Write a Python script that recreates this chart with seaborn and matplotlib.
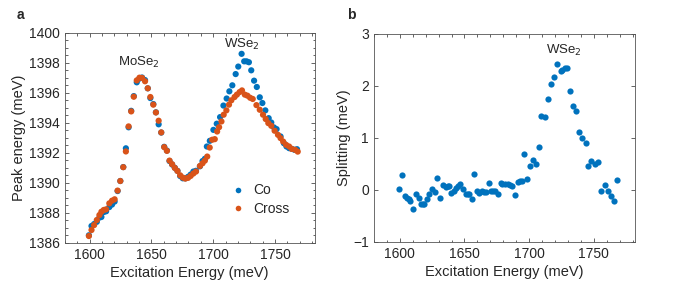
import matplotlib
matplotlib.use('Agg')
import matplotlib.pyplot as plt
from matplotlib.ticker import MultipleLocator
import seaborn as sns
import pandas as pd

# panel a: peak energy vs excitation energy (meV)
cross_E = [1599.5, 1601.6, 1603.7, 1605.9, 1608.0, 1609.6, 1611.5, 1613.4, 1616.0, 1618.2,
           1620.3, 1622.7, 1624.9, 1627.3, 1629.4, 1631.6, 1633.7, 1635.8, 1638.2, 1640.4,
           1642.5, 1644.9, 1647.1, 1649.2, 1651.6, 1653.7, 1655.9, 1658.0, 1660.4, 1662.6,
           1664.7, 1666.8, 1669.0, 1671.1, 1673.3, 1675.4, 1677.5, 1679.7, 1681.8, 1684.0,
           1686.1, 1689.3, 1691.4, 1693.3, 1695.2, 1697.2, 1699.2, 1701.3, 1703.2, 1704.8,
           1706.7, 1708.5, 1710.7, 1712.8, 1714.7, 1717.3, 1719.2, 1721.4, 1723.3, 1725.6,
           1727.7, 1729.9, 1732.0, 1735.0, 1737.7, 1740.3, 1742.5, 1744.6, 1747.0, 1749.7,
           1752.4, 1754.5, 1756.6, 1759.0, 1761.4, 1763.6, 1766.3, 1768.4]
cross_val = [1386.45, 1386.85, 1387.18, 1387.52, 1387.85, 1388.07, 1388.19, 1388.23, 1388.63, 1388.81,
             1388.90, 1389.48, 1390.12, 1391.04, 1392.09, 1393.76, 1394.76, 1395.74, 1396.83, 1397.01,
             1396.99, 1396.77, 1396.30, 1395.72, 1395.21, 1394.69, 1394.14, 1393.36, 1392.38, 1392.13,
             1391.48, 1391.24, 1390.99, 1390.79, 1390.50, 1390.35, 1390.28, 1390.33, 1390.46, 1390.62,
             1390.75, 1391.12, 1391.30, 1391.48, 1391.75, 1392.35, 1392.87, 1392.91, 1393.42, 1393.71,
             1394.09, 1394.54, 1394.83, 1395.21, 1395.50, 1395.72, 1395.88, 1396.05, 1396.16, 1395.88,
             1395.81, 1395.67, 1395.59, 1395.18, 1394.87, 1394.54, 1394.25, 1393.98, 1393.80, 1393.47,
             1393.20, 1392.98, 1392.75, 1392.53, 1392.42, 1392.26, 1392.20, 1392.08]

co_E = [1599.5, 1601.6, 1603.7, 1605.9, 1608.0, 1609.6, 1611.5, 1613.4, 1616.0, 1618.2,
        1620.3, 1622.7, 1624.9, 1627.3, 1629.4, 1631.6, 1633.7, 1635.8, 1638.2, 1640.4,
        1642.5, 1644.9, 1647.1, 1649.2, 1651.6, 1653.7, 1655.9, 1658.0, 1660.4, 1662.6,
        1664.7, 1666.8, 1669.0, 1671.1, 1673.3, 1675.4, 1677.5, 1679.7, 1681.8, 1684.0,
        1686.1, 1689.3, 1691.4, 1693.3, 1694.9, 1697.3, 1700.2, 1702.9, 1705.6, 1708.3,
        1710.9, 1713.1, 1715.5, 1718.2, 1720.3, 1723.0, 1725.1, 1727.0, 1728.9, 1730.8,
        1733.1, 1735.3, 1737.7, 1739.8, 1742.2, 1744.9, 1747.0, 1749.2, 1751.3, 1754.5,
        1757.2, 1759.3, 1761.4, 1763.6, 1765.7, 1767.8]
co_val = [1386.50, 1387.12, 1387.25, 1387.40, 1387.68, 1387.72, 1388.05, 1388.10, 1388.38, 1388.55,
          1388.75, 1389.45, 1390.12, 1391.05, 1392.30, 1393.70, 1394.80, 1395.78, 1396.70, 1396.95,
          1397.02, 1396.85, 1396.30, 1395.65, 1395.25, 1394.70, 1393.90, 1393.35, 1392.40, 1392.15,
          1391.45, 1391.22, 1391.00, 1390.80, 1390.45, 1390.30, 1390.30, 1390.40, 1390.55, 1390.75,
          1390.80, 1391.10, 1391.45, 1391.60, 1392.42, 1392.80, 1393.53, 1393.94, 1394.38, 1395.15,
          1395.62, 1396.10, 1396.50, 1397.25, 1397.75, 1398.60, 1398.10, 1398.10, 1398.04, 1397.50,
          1396.81, 1396.39, 1395.70, 1395.32, 1394.83, 1394.31, 1394.02, 1393.69, 1393.58, 1393.09,
          1392.64, 1392.42, 1392.31, 1392.26, 1392.20, 1392.24]

# panel b: splitting (meV)
split_E = [1599.7, 1602.0, 1603.8, 1605.3, 1606.9, 1608.1, 1609.9, 1612.2, 1614.5, 1616.3,
           1617.8, 1618.8, 1620.9, 1622.9, 1625.0, 1627.0, 1629.0, 1631.3, 1633.4, 1635.4,
           1637.4, 1638.2, 1639.7, 1641.8, 1643.3, 1644.8, 1646.3, 1648.9, 1650.9, 1652.5,
           1653.5, 1655.5, 1657.6, 1659.6, 1661.6, 1663.7, 1665.2, 1666.7, 1668.8, 1670.8,
           1672.3, 1673.8, 1675.9, 1677.9, 1679.4, 1681.5, 1683.5, 1685.1, 1687.1, 1689.1,
           1691.2, 1692.7, 1694.2, 1695.7, 1698.3, 1700.3, 1702.9, 1705.4, 1707.5, 1709.5,
           1712.0, 1714.6, 1716.6, 1719.2, 1721.7, 1724.3, 1725.8, 1727.8, 1729.4, 1731.4,
           1734.0, 1736.5, 1738.5, 1741.1, 1743.6, 1745.7, 1748.2, 1750.8, 1753.3, 1755.8,
           1758.4, 1760.9, 1763.5, 1766.0, 1768.3]
split_val = [0.02, 0.28, -0.12, -0.16, -0.18, -0.21, -0.37, -0.07, -0.16, -0.28,
             -0.28, -0.27, -0.17, -0.07, 0.01, -0.04, 0.23, -0.16, 0.09, 0.06,
             0.07, 0.07, -0.06, -0.03, 0.03, 0.07, 0.12, 0.01, -0.08, -0.08,
             -0.08, -0.18, 0.31, -0.02, -0.06, -0.03, -0.04, -0.04, 0.13, -0.02,
             -0.02, -0.03, -0.07, 0.13, 0.12, 0.11, 0.11, 0.09, 0.07, -0.09,
             0.16, 0.17, 0.17, 0.69, 0.21, 0.46, 0.58, 0.49, 0.83, 1.42,
             1.40, 1.75, 2.03, 2.17, 2.42, 2.28, 2.31, 2.34, 2.35, 1.91,
             1.61, 1.52, 1.11, 1.00, 0.90, 0.47, 0.56, 0.50, 0.54, -0.02,
             0.09, -0.03, -0.11, -0.22, 0.20]

blue = '#0072BD'
orange = '#D95319'

sns.set_style('ticks')
plt.rcParams['font.family'] = ['Liberation Sans', 'DejaVu Sans']
plt.rcParams['xtick.direction'] = 'in'
plt.rcParams['ytick.direction'] = 'in'

df_a = pd.concat([
    pd.DataFrame({'E': co_E, 'peak': co_val, 'pol': 'Co'}),
    pd.DataFrame({'E': cross_E, 'peak': cross_val, 'pol': 'Cross'}),
], ignore_index=True)
df_b = pd.DataFrame({'E': split_E, 'split': split_val})

fig = plt.figure(figsize=(6.75, 2.88), dpi=100)
ax1 = fig.add_axes([0.096, 0.157, 0.370, 0.729])
ax2 = fig.add_axes([0.554, 0.160, 0.387, 0.722])


def style_axes(ax):
    for sp in ax.spines.values():
        sp.set_color('#555555')
        sp.set_linewidth(0.6)
    ax.tick_params(which='both', top=True, right=True, colors='#262626',
                   labelsize=10, width=0.5)
    ax.tick_params(which='major', length=3)
    ax.tick_params(which='minor', length=1.8)
    ax.set_xlim(1580, 1782)
    ax.xaxis.set_major_locator(MultipleLocator(50))
    ax.xaxis.set_minor_locator(MultipleLocator(10))
    ax.set_xlabel('Excitation Energy (meV)', fontsize=10.5, color='#262626', labelpad=3)


sns.scatterplot(data=df_a, x='E', y='peak', hue='pol', palette={'Co': blue, 'Cross': orange},
                s=20, linewidth=0, ax=ax1)
style_axes(ax1)
ax1.set_ylim(1386, 1400)
ax1.yaxis.set_major_locator(MultipleLocator(2))
ax1.yaxis.set_minor_locator(MultipleLocator(0.5))
ax1.set_ylabel('Peak energy (meV)', fontsize=10.5, color='#262626', labelpad=2)
ax1.text(1640, 1397.5, 'MoSe$_2$', ha='center', va='bottom', fontsize=9.5)
ax1.text(1723, 1398.75, 'WSe$_2$', ha='center', va='bottom', fontsize=9.5)
leg = ax1.legend(loc='lower right', bbox_to_anchor=(0.95, 0.07), frameon=False,
                 fontsize=10, handletextpad=0.1, markerscale=0.9, labelspacing=0.3)

sns.scatterplot(data=df_b, x='E', y='split', color=blue, s=20, linewidth=0, ax=ax2)
style_axes(ax2)
ax2.set_ylim(-1, 3)
ax2.yaxis.set_major_locator(MultipleLocator(1))
ax2.set_ylabel('Splitting (meV)', fontsize=10.5, color='#262626', labelpad=2)
ax2.text(1727, 2.54, 'WSe$_2$', ha='center', va='bottom', fontsize=9.5)

fig.text(0.024, 0.935, 'a', fontsize=10, fontweight='bold')
fig.text(0.514, 0.935, 'b', fontsize=10, fontweight='bold')

fig.savefig('out.png', dpi=100)
